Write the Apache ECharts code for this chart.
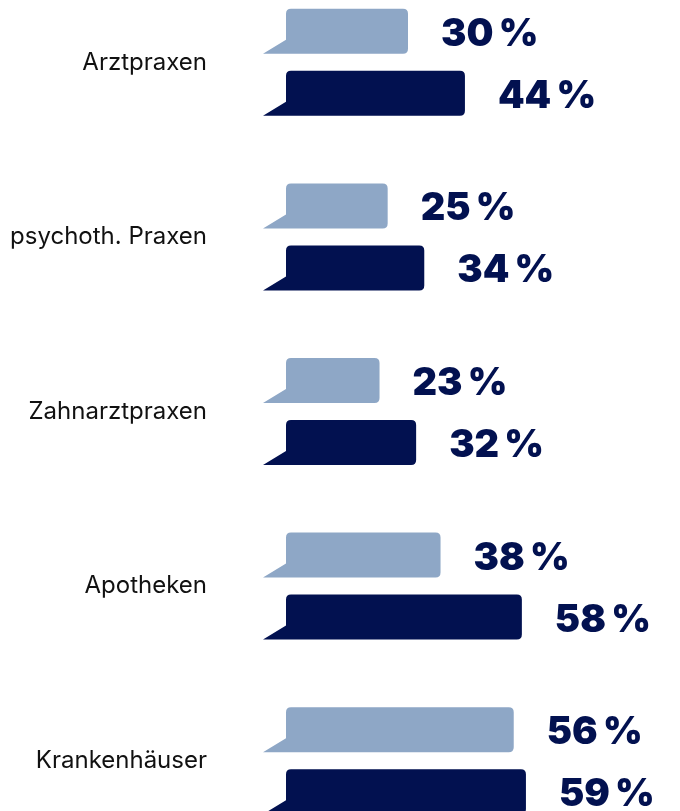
<!DOCTYPE html>
<html><head><meta charset="utf-8">
<script src="https://cdn.jsdelivr.net/npm/echarts@6/dist/echarts.min.js"></script>
<style>html,body{margin:0;padding:0;background:#fff;overflow:hidden}#c{width:680px;height:873px;margin-top:-25px}</style>
</head><body><div id="c"></div>
<script>
const categories = ['Arztpraxen', 'psychoth. Praxen', 'Zahnarztpraxen', 'Apotheken', 'Krankenhäuser'];
const seriesLight = [30, 25, 23, 38, 56];
const seriesDark = [44, 34, 32, 58, 59];

const LIGHT = '#8ea7c6';
const DARK = '#021150';

function bubble(offset, color) {
  return function (params, api) {
    const cat = api.value(0);
    const val = api.value(1);
    const p0 = api.coord([0, cat]);
    const p1 = api.coord([val, cat]);
    const h = 45, r = 5;
    const cy = p0[1] + offset;
    const t = cy - h / 2, b = cy + h / 2;
    const xl = p0[0], xr = p1[0];
    const d = 'M' + xl + ',' + (t + r) + ' Q' + xl + ',' + t + ' ' + (xl + r) + ',' + t +
      ' L' + (xr - r) + ',' + t + ' Q' + xr + ',' + t + ' ' + xr + ',' + (t + r) +
      ' L' + xr + ',' + (b - r) + ' Q' + xr + ',' + b + ' ' + (xr - r) + ',' + b +
      ' L' + (xl - 23) + ',' + b + ' L' + xl + ',' + (b - 14) + ' Z';
    return {
      type: 'group',
      children: [
        { type: 'path', shape: { pathData: d }, style: { fill: color } },
        { type: 'text', x: xr + 33, y: cy + 3,
          style: { text: val + '\u2009%', fill: DARK, font: '900 38px Inter', textAlign: 'left', textVerticalAlign: 'middle' } }
      ]
    };
  };
}

const chart = echarts.init(document.getElementById('c'), null, { renderer: 'canvas' });
chart.setOption({
  animation: false,
  grid: { left: 286, right: 28, top: 0, bottom: 0, containLabel: false },
  xAxis: { type: 'value', min: 0, max: 90, show: false },
  yAxis: {
    type: 'category', data: categories, inverse: true,
    axisLine: { show: false }, axisTick: { show: false },
    axisLabel: { color: '#111', fontSize: 24, fontFamily: 'Inter', margin: 79 }
  },
  series: [
    { type: 'custom', renderItem: bubble(-31, LIGHT), encode: { x: 1, y: 0 },
      data: seriesLight.map((v, i) => [i, v]) },
    { type: 'custom', renderItem: bubble(31, DARK), encode: { x: 1, y: 0 },
      data: seriesDark.map((v, i) => [i, v]) }
  ]
});
</script></body></html>
